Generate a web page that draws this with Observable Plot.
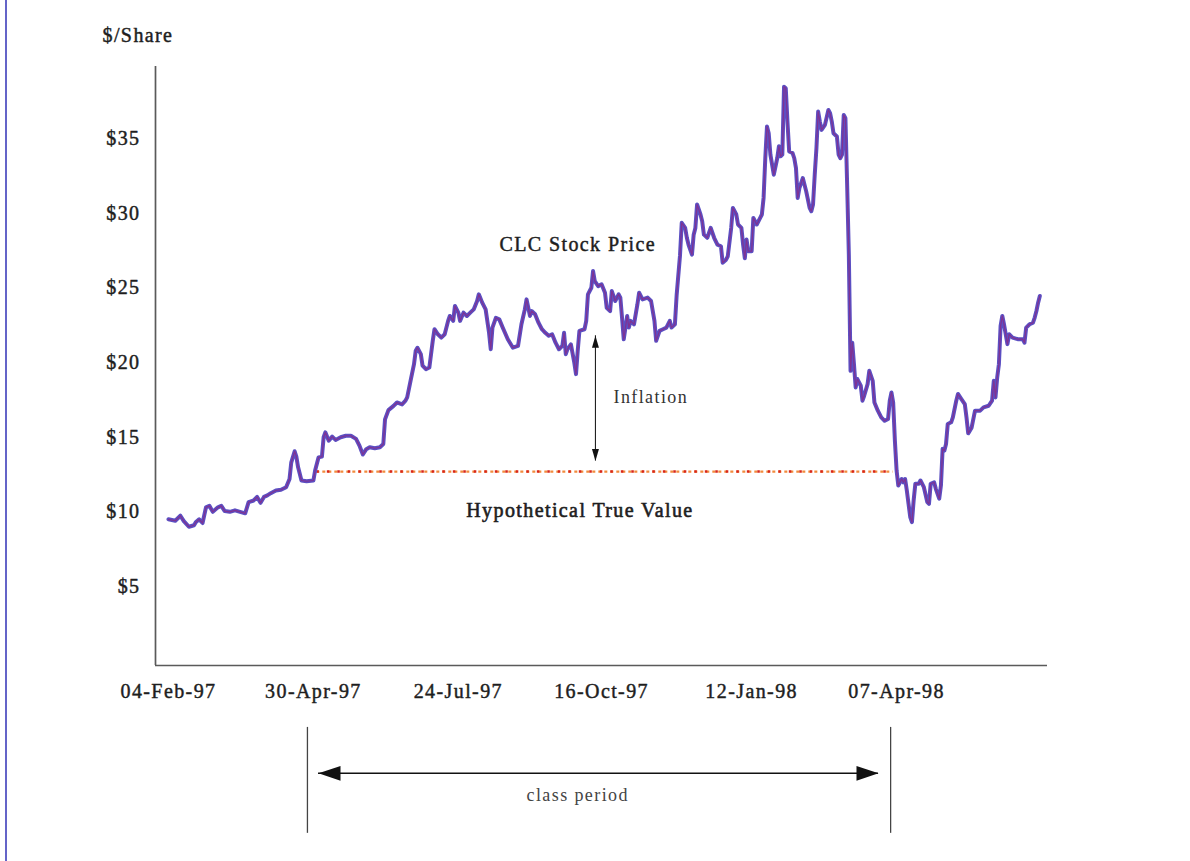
<!DOCTYPE html>
<html>
<head>
<meta charset="utf-8">
<script src="https://cdn.jsdelivr.net/npm/d3@7"></script>
<script src="https://cdn.jsdelivr.net/npm/@observablehq/plot@0.6"></script>
<style>
  html, body { margin: 0; padding: 0; background: #ffffff; }
  #wrap { position: relative; width: 1190px; height: 861px; overflow: hidden; background: #fff; }
  #border { position: absolute; left: 5px; top: 0; width: 2px; height: 861px; background: #6464c8; }
</style>
</head>
<body>
<div id="wrap"><div id="chart"></div><div id="border"></div></div>
<script>
// ---- data ----
const xTickLabels = ["04-Feb-97", "30-Apr-97", "24-Jul-97", "16-Oct-97", "12-Jan-98", "07-Apr-98"];
const yTicks = [5, 10, 15, 20, 25, 30, 35];

// calendar days after 04-Feb-97
const dayOffset = [0,4,7,9,12,15,16,18,20,22,24,26,29,31,33,36,39,42,45,47,50,52,54,56,58,60,63,66,69,71,72,74,75,76,78,81,85,86,88,90,91,92,94,96,98,101,104,107,110,112,114,116,118,121,124,126,127,129,132,134,137,139,140,142,144,145,146,148,149,151,153,155,156,158,160,162,164,165,167,168,170,171,173,175,177,179,181,182,184,186,188,189,190,192,194,196,199,202,205,207,209,210,212,213,215,217,219,221,223,225,227,229,231,232,233,234,236,238,239,240,241,244,245,246,248,249,250,252,254,256,257,259,260,262,264,265,266,267,269,270,271,273,275,276,278,281,283,285,286,288,290,292,294,295,297,298,300,301,303,304,305,307,308,309,310,312,313,314,316,318,320,322,324,325,327,328,330,331,333,334,336,337,338,339,340,342,343,345,347,348,349,350,351,352,353,354,355,357,358,359,360,361,362,363,364,366,367,368,369,370,372,373,374,376,377,378,379,380,381,382,383,385,387,388,389,390,392,393,394,395,396,397,398,399,400,401,402,403,404,406,407,408,410,411,413,414,416,418,420,422,423,424,425,426,427,428,430,431,432,433,434,435,436,437,438,440,441,443,445,446,447,449,450,452,453,454,455,456,457,459,460,462,463,465,467,468,469,471,473,476,478,481,483,484,485,486,487,488,489,490,492,493,495,498,501,502,503,505,507,508,509,510,511];

const price = [9.5,9.4,9.74,9.38,9.0,9.1,9.3,9.5,9.25,10.3,10.4,10.0,10.3,10.4,10.05,10.0,10.1,10.0,9.9,10.65,10.76,11.0,10.6,11.0,11.1,11.25,11.43,11.48,11.65,12.2,13.3,14.06,13.7,13.0,12.1,12.05,12.1,12.77,13.65,13.7,15.0,15.33,14.77,15.04,14.82,15.0,15.1,15.1,14.89,14.44,13.84,14.2,14.33,14.26,14.33,14.55,16.2,16.82,17.1,17.33,17.2,17.45,17.67,18.8,19.9,20.8,21.0,20.57,19.8,19.56,19.67,21.46,22.24,21.9,21.68,21.9,22.8,23.13,22.8,23.8,23.35,22.8,23.35,23.13,23.35,23.57,24.13,24.58,24.02,23.57,22.0,20.9,22.35,23.0,22.9,22.35,21.57,21.0,21.12,22.57,23.57,24.24,23.13,23.46,23.24,22.68,22.24,22.0,21.8,21.9,21.34,20.9,21.12,22.0,20.57,20.9,21.23,20.0,19.23,20.79,22.13,22.24,22.8,24.58,25.02,26.14,25.47,25.13,25.25,24.69,23.68,23.46,24.8,24.13,24.58,24.36,23.0,21.57,23.13,22.35,22.8,22.57,23.9,24.69,24.24,24.36,24.13,22.8,21.46,22.13,22.24,22.35,22.8,22.35,22.57,24.5,27.2,29.37,29.03,28.37,27.9,27.24,28.58,29.03,30.6,29.93,29.48,28.58,28.37,29.03,28.37,27.9,27.8,26.7,26.9,27.13,29.03,30.37,29.93,29.26,29.03,27.9,27.0,28.25,27.47,27.47,29.7,29.26,29.7,29.93,31.04,33.7,35.83,35.38,33.94,33.27,32.6,33.7,34.5,33.83,33.94,38.5,38.4,36.16,34.16,34.05,33.7,33.04,31.04,31.7,32.37,31.93,31.48,30.37,30.15,30.6,32.6,34.38,36.83,36.16,35.6,35.94,36.94,36.72,36.16,35.38,35.16,33.94,33.7,33.94,36.6,36.38,31.93,27.24,19.45,21.34,19.9,18.34,18.9,18.45,17.45,17.78,18.56,19.45,18.78,17.33,16.78,16.33,16.1,16.22,17.45,18.0,17.33,14.77,12.77,11.76,12.2,11.98,12.2,11.43,10.54,9.65,9.31,10.76,11.88,11.88,12.1,11.65,10.65,10.54,11.88,11.98,11.54,10.88,11.76,14.22,14.1,14.55,15.89,16.0,16.33,17.45,17.9,17.56,17.22,16.33,15.26,15.64,16.78,16.78,17.0,17.11,17.45,18.78,17.67,19.0,19.9,22.46,23.13,22.57,21.24,21.9,21.68,21.57,21.57,21.34,22.35,22.57,22.68,23.02,23.46,24.02,24.47];

const trueValue = 12.7;          // hypothetical true value, $/share
const trueValueSpan = [87, 425]; // days after 04-Feb-97
const inflationAt = 250.4;       // day of the inflation arrow
const inflationTop = 21.8;

// ---- helpers ----
const parse = d3.utcParse("%d-%b-%y");
const fmt = d3.utcFormat("%d-%b-%y");
const base = parse(xTickLabels[0]);
const dateOf = d => new Date(base.getTime() + d * 864e5);
const series = dayOffset.map((d, i) => ({date: dateOf(d), price: price[i]}));
const xDomain = [dateOf(-7.6), dateOf(515.5)];
const yDomain = [-0.3, 39.85];

const head = (ratio) => ({
  draw(ctx, size) {
    const r = Math.sqrt(size / Math.PI);
    ctx.moveTo(0, 0);
    ctx.lineTo(-2 * r, -ratio * r);
    ctx.lineTo(-2 * r, ratio * r);
    ctx.closePath();
  }
});
const bigHead = head(0.68);
const smallHead = head(0.58);

const serif = "'Liberation Serif', 'Times New Roman', serif";
const ink = "#1e1e1e";
const bolden = {stroke: ink, strokeWidth: 0.45};

const chart = Plot.plot({
  width: 1190,
  height: 861,
  marginLeft: 155,
  marginRight: 143,
  marginTop: 66,
  marginBottom: 196,
  x: {type: "utc", domain: xDomain, label: null},
  y: {domain: yDomain, label: null},
  style: {fontFamily: serif, fontSize: "20px", letterSpacing: "1.4px", color: ink, background: "white", overflow: "visible"},
  marks: [
    // axes
    Plot.ruleX([xDomain[0]], {y1: yDomain[0], y2: yDomain[1], stroke: "#5a5a5a", strokeWidth: 1.7}),
    Plot.ruleY([yDomain[0]], {x1: xDomain[0], x2: xDomain[1], stroke: "#5a5a5a", strokeWidth: 1.7}),
    Plot.axisY({ticks: yTicks, tickFormat: d => "$" + d, tickSize: 0, tickPadding: 15, fontSize: 20, fill: ink, textStroke: ink, textStrokeWidth: 0.45, label: null}),
    Plot.axisX({ticks: xTickLabels.map(parse), tickFormat: fmt, tickSize: 0, tickPadding: 18, fontSize: 20, fill: ink, textStroke: ink, textStrokeWidth: 0.45, label: null}),
    Plot.text(["$/Share"], {frameAnchor: "top-left", dx: -53, dy: -31, textAnchor: "start", lineAnchor: "middle", fontSize: 20, fill: ink, ...bolden}),

    // hypothetical true value
    Plot.ruleY([trueValue], {x1: dateOf(trueValueSpan[0]), x2: dateOf(trueValueSpan[1]), stroke: "#f28c3e", strokeWidth: 2.2, strokeDasharray: "3 3"}),
    Plot.ruleY([trueValue], {x1: dateOf(trueValueSpan[0]), x2: dateOf(trueValueSpan[1]), stroke: "#d8261a", strokeWidth: 2.6, strokeDasharray: "2.5 8"}),

    // stock price
    Plot.line(series, {x: "date", y: "price", stroke: "#5c4fc2", strokeWidth: 4, strokeLinejoin: "round"}),
    Plot.line(series, {x: "date", y: "price", stroke: "#8a2a86", strokeWidth: 1.2, strokeOpacity: 0.8}),

    // inflation arrow
    Plot.ruleX([dateOf(inflationAt)], {y1: trueValue + 0.7, y2: inflationTop, stroke: "#222", strokeWidth: 1.1}),
    Plot.dot([{x: dateOf(inflationAt), y: inflationTop}], {x: "x", y: "y", symbol: smallHead, r: 6, rotate: -90, fill: "#111", stroke: "none"}),
    Plot.dot([{x: dateOf(inflationAt), y: trueValue + 0.7}], {x: "x", y: "y", symbol: smallHead, r: 6, rotate: 90, fill: "#111", stroke: "none"}),

    // labels
    Plot.text([{x: dateOf(240), y: 27.9}], {x: "x", y: "y", text: () => "CLC Stock Price", textAnchor: "middle", fontSize: 20, fill: ink, ...bolden}),
    Plot.text([{x: dateOf(261), y: 17.67}], {x: "x", y: "y", text: () => "Inflation", textAnchor: "start", fontSize: 18, fill: "#333"}),
    Plot.text([{x: dateOf(241.3), y: 10.1}], {x: "x", y: "y", text: () => "Hypothetical True Value", textAnchor: "middle", fontSize: 20, fill: ink, stroke: ink, strokeWidth: 0.6}),

    // class period
    Plot.ruleX([dateOf(81.5), dateOf(423.5)], {y1: -4.45, y2: -11.55, stroke: "#444", strokeWidth: 1.3}),
    Plot.ruleY([-7.53], {x1: dateOf(88), x2: dateOf(416.4), stroke: "#111", strokeWidth: 1.5}),
    Plot.dot([{x: dateOf(88), y: -7.53}], {x: "x", y: "y", symbol: bigHead, r: 11, rotate: 180, fill: "#111", stroke: "none"}),
    Plot.dot([{x: dateOf(416.4), y: -7.53}], {x: "x", y: "y", symbol: bigHead, r: 11, rotate: 0, fill: "#111", stroke: "none"}),
    Plot.text([{x: dateOf(240), y: -9.0}], {x: "x", y: "y", text: () => "class period", textAnchor: "middle", fontSize: 18, fill: "#444"})
  ]
});
document.getElementById("chart").appendChild(chart);
</script>
</body>
</html>
